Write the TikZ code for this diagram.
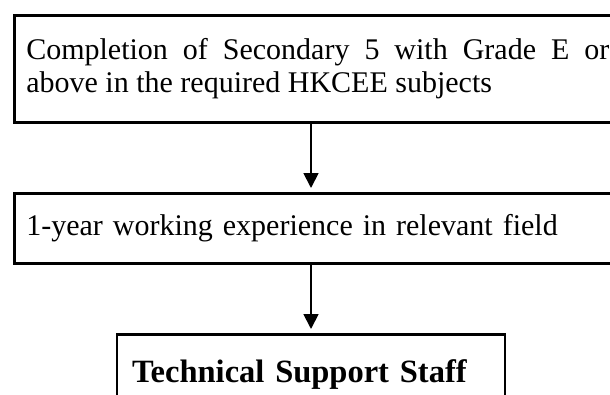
\documentclass[tikz,border=0pt]{standalone}
\usepackage{fontspec}
\setmainfont{Liberation Serif}
\usetikzlibrary{arrows.meta}
\begin{document}
\begin{tikzpicture}[x=1pt,y=-1pt,
  box/.style={draw,line width=2.6pt,inner xsep=12pt,inner ysep=0pt,
    font=\fontsize{30}{33}\selectfont},
  arr/.style={line width=1.8pt,-{Triangle[width=15pt,length=15pt]},shorten >=4pt}]
\useasboundingbox (0,0) rectangle (610,394);
\clip (0,0) rectangle (610,394);
\node[box,anchor=north west,minimum height=107pt,text width=583pt,align=justify]
  (b1) at (13,14) {Completion of Secondary 5 with Grade E or above in the required HKCEE subjects};
\node[box,anchor=north west,minimum height=70pt,minimum width=620pt,align=left,text width=596pt]
  (b2) at (13,192) {1-year working experience in relevant field};
\node[box,anchor=north,minimum height=80pt,inner xsep=15pt,text width=358pt,align=left,
  font=\fontsize{32.5}{36}\selectfont\bfseries]
  (b3) at (311,333) {Technical Support Staff};
\draw[arr] (b1.south -| b3.north) -- (b2.north -| b3.north);
\draw[arr] (b2.south -| b3.north) -- (b3.north);
\end{tikzpicture}
\end{document}
